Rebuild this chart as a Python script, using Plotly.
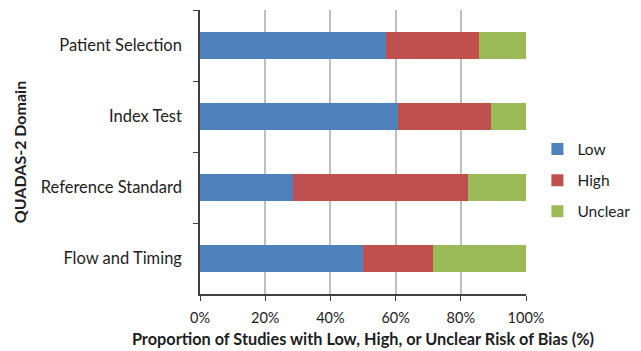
import plotly.graph_objects as go

domains = ["Patient Selection", "Index Test", "Reference Standard", "Flow and Timing"]
low = [57.1, 60.7, 28.6, 50.0]
high = [28.6, 28.6, 53.6, 21.4]
unclear = [14.3, 10.7, 17.9, 28.6]
x_ticks = [0, 20, 40, 60, 80, 100]
x_tick_labels = ["0%", "20%", "40%", "60%", "80%", "100%"]

series = [("Low", low, "#4F81BD"), ("High", high, "#C0504D"), ("Unclear", unclear, "#9BBB59")]

fig = go.Figure()
for name, vals, color in series:
    fig.add_trace(go.Bar(
        y=domains, x=vals, name=name, orientation="h",
        marker=dict(color=color, line=dict(width=0)),
        legendgroup=name,
    ))

font_family = "Lato, 'Open Sans', sans-serif"
fig.update_layout(
    barmode="stack",
    bargap=0.62,
    width=633, height=343,
    margin=dict(l=192, r=115, t=2, b=57, autoexpand=False),
    paper_bgcolor="white", plot_bgcolor="white",
    font=dict(family=font_family, size=16, color="#1e1e1e"),
    showlegend=True,
    legend=dict(
        x=1.035, xanchor="left", xref="paper", y=0.40, yanchor="middle",
        font=dict(size=15.5, color="#1e1e1e"),
        tracegroupgap=8, itemwidth=30, traceorder="grouped",
        bgcolor="rgba(0,0,0,0)",
    ),
    xaxis=dict(
        range=[0, 100], tickvals=x_ticks, ticktext=x_tick_labels,
        showgrid=True, gridcolor="#BFBFBF", gridwidth=1.5,
        showline=True, linecolor="#404040", linewidth=1.5,
        ticks="outside", ticklen=5, tickcolor="#404040",
        tickfont=dict(size=14.5),
        ticklabelstandoff=5,
        zeroline=False, automargin=False,
        title=dict(text="<b>Proportion of Studies with Low, High, or Unclear Risk of Bias (%)</b>",
                   font=dict(size=16.3), standoff=8),
    ),
    yaxis=dict(
        categoryorder="array", categoryarray=domains, autorange="reversed",
        showline=True, linecolor="#404040", linewidth=1.5,
        ticks="outside", ticklen=5, tickcolor="#404040", tickson="boundaries",
        showgrid=False, automargin=False,
        tickfont=dict(size=16.5),
        ticklabelstandoff=13,
        title=dict(text="<b>QUADAS-2 Domain</b>", font=dict(size=16), standoff=10),
    ),
)
fig.write_html("out.html")
